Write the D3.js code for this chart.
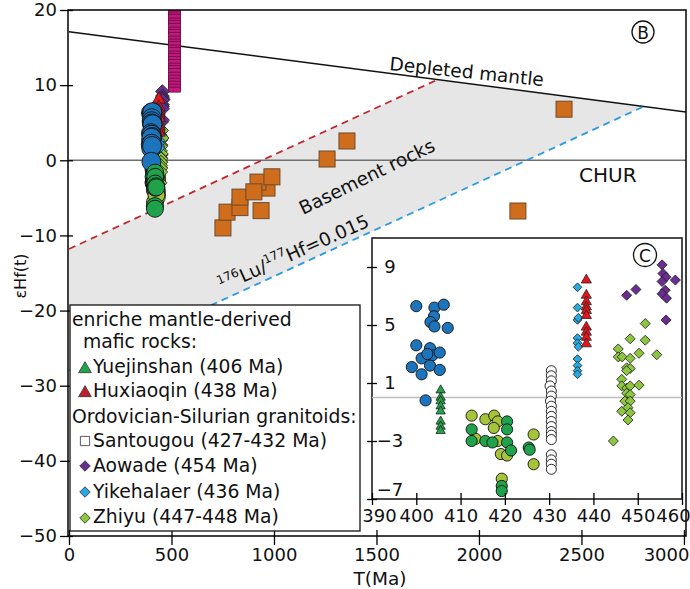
<!DOCTYPE html>
<html>
<head>
<meta charset="utf-8">
<style>
    body { margin: 0; background: #fff; }
    svg { display: block; font-family: "DejaVu Sans", "Liberation Sans", Arial, sans-serif; }
    .domain { display: none; }
    .tick line { stroke: #000; stroke-width: 1.3px; }
    .tick text { font-size: 18px; fill: #111; font-family: "DejaVu Sans", sans-serif; }
    .label { fill: #111; }
</style>
</head>
<body>
<svg width="690" height="589"></svg>

<script src="https://d3js.org/d3.v7.min.js"></script>
<script>

    // ---- data: [T (Ma), eHf(t)] ----
    let mainXTicks = [0, 500, 1000, 1500, 2000, 2500, 3000]
    let mainYTicks = [20, 10, 0, -10, -20, -30, -40, -50]
    let insetXTicks = [390, 400, 410, 420, 430, 440, 450, 460]
    let insetYTicks = [9, 5, 1, -3, -7]

    let depletedMantle = [[0, 17.1], [3010, 6.43]]
    let chur = [[0, 0], [3010, 0]]
    let redLine = [[0, -11.8], [1798, 10.73]]
    let blueLine = [[0, -27.98], [2804, 7.16]]

    let basement = [[751, -9.0], [771, -6.9], [834, -6.3], [834, -4.9], [966, -3.7], [922, -2.9],
        [902, -4.2], [937, -6.7], [990, -2.2], [1259, 0.17], [1356, 2.57], [2190, -6.75], [2415, 6.8]]

    let magentaT = 515
    let magentaVals = [20.6, 19.8, 19.4, 19.1, 18.6, 18.3, 17.9, 17.4, 17.1, 16.7, 16.2, 15.8, 15.5,
        15.0, 14.7, 14.2, 13.9, 13.5, 13.1, 12.6, 12.3, 11.9, 11.4, 11.0, 10.6, 10.2, 9.8, 9.4]

    let blueCircles = [[400.0, 6.3], [404.1, 6.2], [406.2, 6.4], [404.0, 5.6], [403.2, 5.2], [404.1, 4.9],
        [407.1, 4.8], [400.0, 3.6], [403.1, 3.4], [401.2, 2.7], [403.6, 2.9], [405.3, 3.1], [402.5, 3.0],
        [399.0, 2.1], [403.1, 2.2], [401.2, 1.6], [405.3, 1.9], [402.1, -0.2]]
    let yuejinshan = [[405.5, 0.5], [405.5, 0.0], [405.5, -0.25], [405.5, -0.6], [405.5, -0.95],
        [405.5, -1.65], [405.5, -2.0], [405.5, -2.3]]
    let oliveCircles = [[412.5, -1.25], [415.6, -1.5], [417.6, -1.25], [418.4, -1.65], [417.5, -2.1],
        [413.4, -2.85], [418.4, -3.0], [419.1, -3.9], [420.5, -4.0], [419.3, -5.6], [426.5, -2.55], [426.5, -4.6]]
    let greenCircles = [[412.5, -2.2], [412.5, -3.0], [415.6, -3.0], [417.2, -3.1], [420.5, -1.65],
        [420.5, -2.2], [420.5, -3.1], [421.4, -3.65], [425.4, -3.45], [425.6, -3.6], [419.3, -6.1], [419.3, -6.45]]
    let santougou = [[430.5, 1.85], [430.5, 1.5], [430.5, 1.15], [430.2, 0.8], [430.5, 0.45], [430.5, 0.1],
        [430.3, -0.25], [430.5, -0.6], [430.5, -0.95], [430.5, -1.3], [430.5, -1.65], [430.5, -2.0],
        [430.5, -2.35], [430.5, -2.6], [430.5, -2.9], [430.5, -3.95], [430.5, -4.3], [430.5, -4.6], [430.5, -4.95]]
    let yikehalaer = [[436.4, 7.6], [436.4, 6.2], [436.4, 5.35], [436.6, 5.5], [436.4, 4.1], [436.4, 3.75],
        [436.6, 3.5], [436.4, 2.65], [436.4, 2.2], [436.4, 1.85], [436.4, 1.6]]
    let huxiaoqin = [[438.4, 8.1], [438.4, 7.05], [438.4, 6.6], [438.4, 6.25], [438.4, 6.0], [438.4, 5.65],
        [438.4, 4.85], [438.4, 4.5], [438.4, 4.15], [438.4, 3.7]]
    let aowade = [[447.5, 7.05], [449.6, 7.45], [455.5, 9.15], [455.7, 8.55], [456.4, 8.3], [458.5, 8.1],
        [455.5, 8.0], [456.2, 7.4], [455.5, 7.15], [456.5, 6.85], [456.4, 5.35]]
    let zhiyu = [[445.6, 3.35], [445.6, 2.8], [446.5, 2.8], [448.3, 4.05], [448.3, 2.7], [451.7, 5.1],
        [451.7, 3.95], [450.3, 3.05], [454.3, 2.95], [447.5, 2.05], [448.3, 2.0], [447.5, 1.85], [446.4, 1.25],
        [446.4, 0.8], [447.5, 0.65], [448.3, 0.8], [450.3, 0.85], [447.5, 0.3], [448.3, 0.2], [447.1, -0.25],
        [448.3, -0.25], [446.4, -0.95], [447.8, -0.7], [448.3, -1.05], [447.8, -1.55], [444.5, -3.0]]

    let legendLines = ["enriche mantle-derived", " mafic rocks:", "Yuejinshan (406 Ma)", "Huxiaoqin (438 Ma)",
        "Ordovician-Silurian granitoids:", "Santougou (427-432 Ma)", "Aowade (454 Ma)",
        "Yikehalaer (436 Ma)", "Zhiyu (447-448 Ma)"]

    // ---- scales ----
    let svg = d3.select("svg")

    let x = d3.scaleLinear().domain([0, 3010]).range([69, 686])
    let y = d3.scaleLinear().domain([-50, 20]).range([536, 10])
    let xi = d3.scaleLinear().domain([390, 460]).range([372, 682])
    let yi = d3.scaleLinear().domain([-7, 11]).range([499, 238])

    let line = d3.line().x(d => x(d[0])).y(d => y(d[1]))

    svg.append("clipPath").attr("id", "plotclip")
        .append("rect").attr("x", 68).attr("y", 10).attr("width", 618).attr("height", 526)

    let plot = svg.append("g").attr("clip-path", "url(#plotclip)")

    // grey basement field
    plot.append("path")
        .attr("d", line([redLine[0], redLine[1], blueLine[1], blueLine[0]]) + "Z")
        .style("fill", "#e6e6e6")

    plot.append("path").attr("d", line(chur))
        .style("stroke", "#6f6f6f").style("stroke-width", "1.6px").style("fill", "none")
    plot.append("path").attr("d", line(depletedMantle))
        .style("stroke", "#111").style("stroke-width", "1.5px").style("fill", "none")
    plot.append("path").attr("d", line(redLine))
        .style("stroke", "#c1272d").style("stroke-width", "1.8px").style("stroke-dasharray", "7,5").style("fill", "none")
    plot.append("path").attr("d", line(blueLine))
        .style("stroke", "#2b9be0").style("stroke-width", "1.8px").style("stroke-dasharray", "7,5").style("fill", "none")

    // field labels
    plot.append("text").attr("class", "label")
        .attr("transform", "translate(389,70) rotate(6)")
        .style("font-size", "18.5px").text("Depleted mantle")
    plot.append("text").attr("class", "label")
        .attr("transform", "translate(303,215) rotate(-26)")
        .style("font-size", "18.5px").text("Basement rocks")
    plot.append("text").attr("class", "label")
        .attr("x", 579).attr("y", 182)
        .style("font-size", "20px").text("CHUR")

    let lu = plot.append("text").attr("class", "label")
        .attr("transform", "translate(222,292) rotate(-24)")
        .style("font-size", "18.5px")
    lu.append("tspan").style("font-size", "12px").attr("dy", -8).text("176")
    lu.append("tspan").attr("dy", 8).text("Lu/")
    lu.append("tspan").style("font-size", "12px").attr("dy", -8).text("177")
    lu.append("tspan").attr("dy", 8).text("Hf=0.015")

    // basement squares
    plot.append("g").selectAll("rect")
        .data(basement)
        .join("rect")
        .attr("x", d => x(d[0]) - 8)
        .attr("y", d => y(d[1]) - 8)
        .attr("width", 16)
        .attr("height", 16)
        .style("fill", "#cf6d1d")
        .style("stroke", "#6d4a2b")
        .style("stroke-width", "1px")

    // magenta column
    plot.append("g").selectAll("rect")
        .data(magentaVals)
        .join("rect")
        .attr("x", x(magentaT) - 6)
        .attr("y", d => y(d) - 2.5)
        .attr("width", 12)
        .attr("height", 5)
        .style("fill", "#c0187c")
        .style("stroke", "#5e0a3b")
        .style("stroke-width", "0.7px")

    function plotPoints(layer, data, sx, sy, shape, size, fill) {
        if (shape == "circle") {
            layer.append("g").selectAll("circle")
                .data(data)
                .join("circle")
                .attr("cx", d => sx(d[0]))
                .attr("cy", d => sy(d[1]))
                .attr("r", size)
                .style("fill", fill)
                .style("stroke", "#111")
                .style("stroke-width", "0.9px")
        } else {
            let sym = d3.symbol()
                .type(shape == "triangle" ? d3.symbolTriangle : d3.symbolSquare)
                .size(size)
            layer.append("g").selectAll("path")
                .data(data)
                .join("path")
                .attr("d", sym)
                .attr("transform", d => `translate(${sx(d[0])},${sy(d[1])})` + (shape == "diamond" ? " rotate(45)" : ""))
                .style("fill", fill)
                .style("stroke", "#222")
                .style("stroke-width", "0.8px")
        }
    }

    let colors = {
        blue: "#1c75bc", yue: "#22a34a", hux: "#e8141c", olive: "#a6c43a", green: "#1fa24b",
        white: "#ffffff", yike: "#27aae1", aow: "#6a2c91", zhi: "#8dc63f"
    }

    // main cluster, large markers
    plotPoints(plot, santougou, x, y, "circle", 8, colors.white)
    plotPoints(plot, oliveCircles, x, y, "circle", 8.5, colors.olive)
    plotPoints(plot, zhiyu, x, y, "diamond", 95, colors.zhi)
    plotPoints(plot, yikehalaer, x, y, "diamond", 80, colors.yike)
    plotPoints(plot, aowade, x, y, "diamond", 95, colors.aow)
    plotPoints(plot, huxiaoqin, x, y, "triangle", 70, colors.hux)
    plotPoints(plot, yuejinshan, x, y, "triangle", 70, colors.yue)
    plotPoints(plot, blueCircles, x, y, "circle", 9.5, colors.blue)
    plotPoints(plot, greenCircles, x, y, "circle", 8.5, colors.green)

    // main frame
    svg.append("rect")
        .attr("x", 68).attr("y", 10).attr("width", 618).attr("height", 526)
        .style("fill", "none").style("stroke", "#000").style("stroke-width", "1.5px")

    // axes
    let yAxis = svg.append("g")
        .attr("transform", "translate(68,0)")
        .call(d3.axisLeft(y).tickValues(mainYTicks).tickSize(8).tickPadding(3).tickFormat(d3.format("d")))
    yAxis.selectAll(".tick line").attr("x1", 5)

    let xAxis = svg.append("g")
        .attr("transform", "translate(0,536)")
        .call(d3.axisBottom(x).tickValues(mainXTicks).tickSize(9).tickPadding(3).tickFormat(d3.format("d")))
    xAxis.selectAll(".tick line").attr("y1", -6)
    xAxis.selectAll(".tick text").filter(d => d == 3000).attr("text-anchor", "end").attr("x", 5)

    svg.append("text").attr("class", "label")
        .attr("transform", "translate(26,276) rotate(-90)")
        .attr("text-anchor", "middle").style("font-size", "16px").text("εHf(t)")
    svg.append("text").attr("class", "label")
        .attr("x", 380).attr("y", 585)
        .attr("text-anchor", "middle").style("font-size", "18.5px").text("T(Ma)")

    // circled B
    svg.append("circle").attr("cx", 643).attr("cy", 32).attr("r", 11)
        .style("fill", "#fff").style("stroke", "#111").style("stroke-width", "1.3px")
    svg.append("text").attr("class", "label").attr("x", 643).attr("y", 38.5)
        .attr("text-anchor", "middle").style("font-size", "17px").text("B")

    // legend
    svg.append("rect")
        .attr("x", 70).attr("y", 305).attr("width", 290).attr("height", 226)
        .style("fill", "#fff").style("stroke", "#111").style("stroke-width", "1.3px")

    let legendPos = [[72, 326], [77, 348], [93, 373], [93, 397], [72, 423], [93, 447], [93, 472], [93, 498], [93, 523]]
    let legend = svg.append("g")
    legend.append("clipPath").attr("id", "legclip")
        .append("rect").attr("x", 70).attr("y", 305).attr("width", 290).attr("height", 226)
    legend.append("g").attr("clip-path", "url(#legclip)")
        .selectAll("text")
        .data(legendLines)
        .join("text")
        .attr("class", "label")
        .attr("x", (d, i) => legendPos[i][0])
        .attr("y", (d, i) => legendPos[i][1])
        .style("font-size", "18.8px")
        .style("white-space", "pre")
        .text(d => d)

    let legendMarks = [
        { pos: [85, 369], shape: d3.symbolTriangle, size: 70, fill: "#22a34a", rot: 0 },
        { pos: [85, 393], shape: d3.symbolTriangle, size: 70, fill: "#be1e2d", rot: 0 },
        { pos: [85, 441], shape: d3.symbolSquare, size: 85, fill: "#fff", rot: 0 },
        { pos: [85, 466], shape: d3.symbolSquare, size: 55, fill: colors.aow, rot: 45 },
        { pos: [85, 492], shape: d3.symbolSquare, size: 55, fill: colors.yike, rot: 45 },
        { pos: [85, 518], shape: d3.symbolSquare, size: 55, fill: colors.zhi, rot: 45 }
    ]
    legend.append("g").selectAll("path")
        .data(legendMarks)
        .join("path")
        .attr("d", d => d3.symbol().type(d.shape).size(d.size)())
        .attr("transform", d => `translate(${d.pos[0]},${d.pos[1]}) rotate(${d.rot})`)
        .style("fill", d => d.fill)
        .style("stroke", "#333")
        .style("stroke-width", "0.8px")

    // inset C
    svg.append("rect")
        .attr("x", 372).attr("y", 238).attr("width", 310).attr("height", 261)
        .style("fill", "#fff").style("stroke", "#111").style("stroke-width", "1.5px")

    let inset = svg.append("g")
    inset.append("line")
        .attr("x1", xi(390)).attr("x2", xi(460))
        .attr("y1", yi(0)).attr("y2", yi(0))
        .style("stroke", "#bdbdbd").style("stroke-width", "1.3px")

    plotPoints(inset, blueCircles, xi, yi, "circle", 5.6, colors.blue)
    plotPoints(inset, yuejinshan, xi, yi, "triangle", 38, colors.yue)
    plotPoints(inset, oliveCircles, xi, yi, "circle", 5.6, colors.olive)
    plotPoints(inset, greenCircles, xi, yi, "circle", 5.6, colors.green)
    plotPoints(inset, santougou, xi, yi, "circle", 5, colors.white)
    plotPoints(inset, yikehalaer, xi, yi, "diamond", 38, colors.yike)
    plotPoints(inset, huxiaoqin, xi, yi, "triangle", 45, colors.hux)
    plotPoints(inset, zhiyu, xi, yi, "diamond", 50, colors.zhi)
    plotPoints(inset, aowade, xi, yi, "diamond", 50, colors.aow)

    let xiAxis = svg.append("g")
        .attr("transform", "translate(0,499)")
        .call(d3.axisBottom(xi).tickValues(insetXTicks).tickSize(6).tickPadding(4))
    xiAxis.selectAll(".tick line").attr("y1", -6)
    xiAxis.selectAll(".tick text").filter(d => d == 390).attr("x", 7)
    xiAxis.selectAll(".tick text").filter(d => d == 460).attr("x", -9)

    let yiAxis = svg.append("g")
        .attr("transform", "translate(372,0)")
        .call(d3.axisRight(yi).tickValues(insetYTicks).tickSize(5))
    yiAxis.selectAll(".tick line").attr("x1", -5)
    yiAxis.selectAll(".tick text").attr("x", 18).attr("text-anchor", "middle")
    yiAxis.selectAll(".tick text").filter(d => d == -7).attr("y", -9)

    svg.append("circle").attr("cx", 645).attr("cy", 255).attr("r", 11.5)
        .style("fill", "#fff").style("stroke", "#111").style("stroke-width", "1.3px")
    svg.append("text").attr("class", "label").attr("x", 645).attr("y", 261.5)
        .attr("text-anchor", "middle").style("font-size", "17px").text("C")

</script>
</body>
</html>
